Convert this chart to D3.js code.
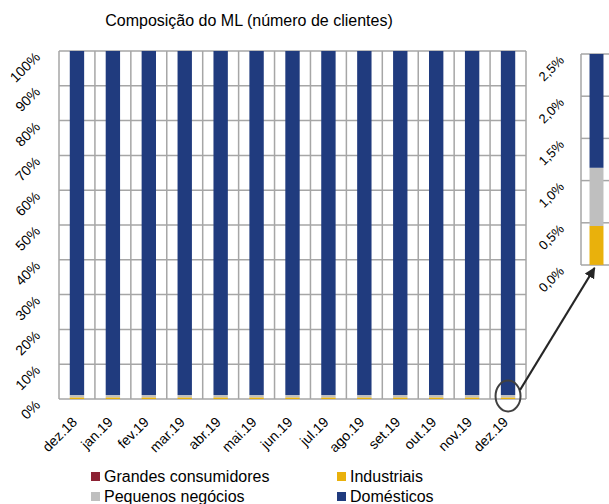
<!DOCTYPE html>
<html>
<head>
<meta charset="utf-8">
<script src="https://cdn.jsdelivr.net/npm/d3@7"></script>
<style>
  html, body { margin: 0; padding: 0; background: #fff; }
  svg { display: block; font-family: "Liberation Sans", Arial, sans-serif; }
</style>
</head>
<body>
<svg id="chart" width="609" height="504"></svg>
<script>
/* ===== data (percent of clients) ===== */
const months = ["dez.18", "jan.19", "fev.19", "mar.19", "abr.19", "mai.19", "jun.19",
                "jul.19", "ago.19", "set.19", "out.19", "nov.19", "dez.19"];
const grandes     = [0.002, 0.002, 0.002, 0.002, 0.002, 0.002, 0.002, 0.002, 0.002, 0.002, 0.002, 0.002, 0.002];
const industriais = [0.47, 0.47, 0.47, 0.47, 0.47, 0.47, 0.46, 0.46, 0.46, 0.46, 0.46, 0.46, 0.46];
const pequenos    = [0.68, 0.68, 0.68, 0.68, 0.68, 0.68, 0.69, 0.69, 0.69, 0.69, 0.69, 0.69, 0.69];
const domesticos  = [98.85, 98.85, 98.85, 98.85, 98.85, 98.85, 98.85, 98.85, 98.85, 98.85, 98.85, 98.85, 98.85];

const mainTicks  = [0, 10, 20, 30, 40, 50, 60, 70, 80, 90, 100];
const insetTicks = [0, 0.5, 1.0, 1.5, 2.0, 2.5];

const seriesNames  = ["Grandes consumidores", "Industriais", "Pequenos negócios", "Domésticos"];
const seriesColors = ["#8C2234", "#E9B10C", "#BFBFBF", "#203B7E"];

const rows = months.map((m, i) => ({
  month: m,
  g: grandes[i], ind: industriais[i], peq: pequenos[i], dom: domesticos[i]
}));
const keys = ["g", "ind", "peq", "dom"];
const stacked = d3.stack().keys(keys)(rows);

const svg = d3.select("#chart");
const gridColor = "#A6A6A6";

/* ===== title ===== */
svg.append("text")
  .attr("x", 249).attr("y", 26)
  .attr("text-anchor", "middle")
  .style("font-size", "16px")
  .text("Composição do ML (número de clientes)");

/* ===== main chart ===== */
const x = d3.scaleBand().domain(months).range([59, 526])
  .paddingInner(0.6).paddingOuter(0.3);
const y = d3.scaleLinear().domain([0, 100]).range([399, 51]);

const main = svg.append("g");

// horizontal grid
main.selectAll(".hgrid").data(mainTicks).enter().append("line")
  .attr("x1", 59).attr("x2", 526)
  .attr("y1", d => y(d)).attr("y2", d => y(d))
  .attr("stroke", gridColor).attr("stroke-width", 1.5);

// vertical grid at category boundaries
const step = x.step();
const bounds = d3.range(months.length + 1).map(i => 59 + i * step);
main.selectAll(".vgrid").data(bounds).enter().append("line")
  .attr("x1", d => d).attr("x2", d => d)
  .attr("y1", y(0)).attr("y2", y(100))
  .attr("stroke", gridColor).attr("stroke-width", 1.5);

main.selectAll(".layer").data(stacked).enter().append("g")
  .attr("fill", (d, i) => seriesColors[i])
  .selectAll("rect").data(d => d).enter().append("rect")
  .attr("x", d => x(d.data.month))
  .attr("width", x.bandwidth())
  .attr("y", d => y(d[1]))
  .attr("height", d => y(d[0]) - y(d[1]));

// y tick labels
main.selectAll(".ylab").data(mainTicks).enter().append("text")
  .attr("transform", d => `translate(41,${y(d) + 7}) rotate(-45)`)
  .attr("text-anchor", "end")
  .style("font-size", "14px")
  .text(d => d + "%");

// x tick labels
main.selectAll(".xlab").data(months).enter().append("text")
  .attr("transform", d => `translate(${x(d) + x.bandwidth() / 2 + 1},${y(0) + 24}) rotate(-45)`)
  .attr("text-anchor", "end")
  .style("font-size", "14px")
  .text(d => d);

/* ===== inset (last month zoomed) ===== */
const last = stacked.map(s => s[s.length - 1]);
const xi = d3.scaleBand().domain([months[months.length - 1]]).range([581, 612])
  .paddingInner(0.55).paddingOuter(0.275);
const yi = d3.scaleLinear().domain([0, 2.5]).range([265, 54]).clamp(true);

const inset = svg.append("g");
inset.selectAll(".hgrid").data(insetTicks).enter().append("line")
  .attr("x1", 581).attr("x2", 612)
  .attr("y1", d => yi(d)).attr("y2", d => yi(d))
  .attr("stroke", gridColor).attr("stroke-width", 1.5);
inset.append("line")
  .attr("x1", 581).attr("x2", 581)
  .attr("y1", yi(0)).attr("y2", yi(2.5))
  .attr("stroke", gridColor).attr("stroke-width", 1.5);

inset.selectAll("rect").data(last).enter().append("rect")
  .attr("fill", (d, i) => seriesColors[i])
  .attr("x", xi(months[months.length - 1]))
  .attr("width", xi.bandwidth())
  .attr("y", d => yi(d[1]))
  .attr("height", d => yi(d[0]) - yi(d[1]));

const fmtComma = d => d.toFixed(1).replace(".", ",") + "%";
inset.selectAll(".ylab").data(insetTicks).enter().append("text")
  .attr("transform", d => `translate(565,${yi(d) + 7}) rotate(-45)`)
  .attr("text-anchor", "end")
  .style("font-size", "13px")
  .text(fmtComma);

/* ===== highlight ellipse + arrow ===== */
const lastMonth = months[months.length - 1];
const cx = x(lastMonth) + x.bandwidth() / 2;
svg.append("defs").append("marker")
  .attr("id", "arrow")
  .attr("viewBox", "0 0 10 10")
  .attr("refX", 9).attr("refY", 5)
  .attr("markerWidth", 5).attr("markerHeight", 5)
  .attr("orient", "auto")
  .append("path").attr("d", "M0,0 L10,5 L0,10 z").attr("fill", "#262626");

svg.append("ellipse")
  .attr("cx", cx).attr("cy", y(0) - 3)
  .attr("rx", 12.5).attr("ry", 15.5)
  .attr("fill", "none").attr("stroke", "#404040").attr("stroke-width", 2);

svg.append("line")
  .attr("x1", cx + 12).attr("y1", y(0) - 9)
  .attr("x2", xi(lastMonth) + 5).attr("y2", yi(0) + 3)
  .attr("stroke", "#262626").attr("stroke-width", 2.2)
  .attr("marker-end", "url(#arrow)");

/* ===== legend ===== */
const legendPos = [[91, 472], [337, 472], [91, 492], [337, 492]];
const legend = svg.selectAll(".leg").data(seriesNames).enter().append("g")
  .attr("transform", (d, i) => `translate(${legendPos[i][0]},${legendPos[i][1]})`);
legend.append("rect")
  .attr("width", 9).attr("height", 9)
  .attr("fill", (d, i) => seriesColors[i]);
legend.append("text")
  .attr("x", 13).attr("y", 10)
  .style("font-size", "16px")
  .text(d => d);
</script>
</body>
</html>
